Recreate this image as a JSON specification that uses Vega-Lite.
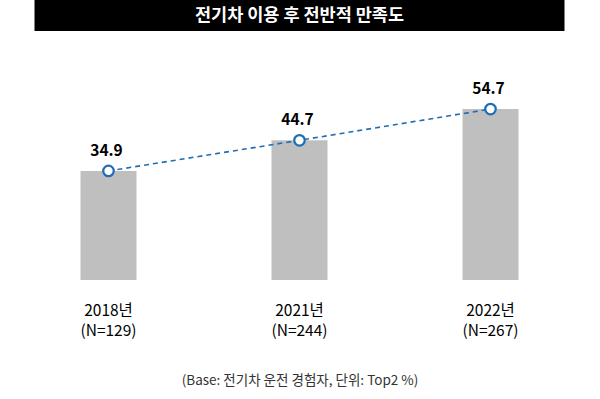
{
  "$schema": "https://vega.github.io/schema/vega-lite/v6.json",
  "background": "white",
  "padding": {"left": 13, "top": 0, "right": 14, "bottom": 5},
  "center": true,
  "spacing": 0,
  "config": {"view": {"stroke": null}, "font": "Noto Sans CJK KR"},
  "vconcat": [
    {
      "width": 530,
      "height": 31,
      "view": {"fill": "black", "stroke": null},
      "data": {"values": [{"title": "전기차 이용 후 전반적 만족도"}]},
      "mark": {"type": "text", "color": "white", "fontSize": 17.5, "fontWeight": "bold", "font": "Noto Sans CJK KR", "baseline": "middle", "align": "center"},
      "encoding": {"text": {"field": "title"}}
    },
    {
      "width": 573,
      "height": 249,
      "data": {"values": [
        {"year": "2018년\n(N=129)", "value": 34.9, "label": "34.9"},
        {"year": "2021년\n(N=244)", "value": 44.7, "label": "44.7"},
        {"year": "2022년\n(N=267)", "value": 54.7, "label": "54.7"}
      ]},
      "encoding": {
        "x": {"field": "year", "type": "nominal", "sort": null,
          "scale": {"paddingInner": 0, "paddingOuter": 0},
          "axis": {"labelAngle": 0, "domain": false, "ticks": false, "labelExpr": "split(datum.value, '\\n')",
            "labelFontSize": 15.5, "labelColor": "black", "labelLineHeight": 20, "labelPadding": 23, "labelBaseline": "top",
            "title": "(Base: 전기차 운전 경험자, 단위: Top2 %)", "titleFontSize": 13.5, "titleFontWeight": "normal", "titleColor": "#333333", "titlePadding": 35}},
        "y": {"field": "value", "type": "quantitative", "scale": {"domain": [0, 79.68], "nice": false}, "axis": null}
      },
      "layer": [
        {"mark": {"type": "bar", "width": 56, "color": "#bfbfbf"}},
        {"mark": {"type": "line", "color": "#1f6db3", "strokeWidth": 1.6, "strokeDash": [5, 4]}},
        {"mark": {"type": "point", "shape": "circle", "filled": true, "fill": "white", "stroke": "#1f6db3", "strokeWidth": 2.2, "size": 110, "opacity": 1}},
        {"mark": {"type": "text", "fontSize": 15.5, "fontWeight": "bold", "color": "black", "dy": -20, "dx": -2, "baseline": "middle"},
          "encoding": {"text": {"field": "label"}}}
      ]
    }
  ]
}
